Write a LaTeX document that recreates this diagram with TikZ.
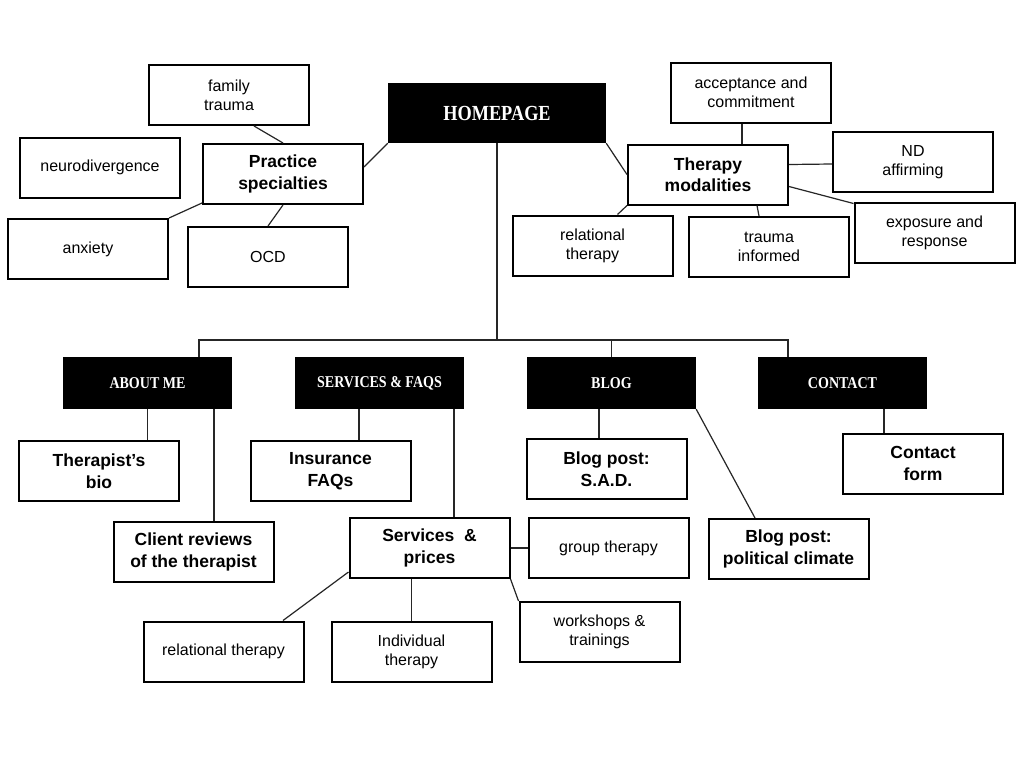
\documentclass[tikz,border=0pt]{standalone}
\usepackage{fontspec}
\setmainfont{Liberation Sans}
\newfontfamily\headfont[FakeStretch=0.85]{Liberation Serif}
\usetikzlibrary{positioning,calc}
\tikzset{
  leaf/.style={draw, line width=2pt, minimum width=160pt, minimum height=60pt, inner sep=2pt, align=center, font=\fontsize{16}{19}\selectfont},
  topic/.style={leaf, font=\fontsize{17.5}{21.5}\selectfont\bfseries},
  head/.style={fill=black, text=white, minimum width=169pt, minimum height=52pt, inner sep=0pt, font=\headfont\fontsize{16.5}{18}\selectfont\bfseries},
  link/.style={draw=black!85, line width=1.2pt}
}

\begin{document}
\begin{tikzpicture}[x=1pt,y=-1pt]
\fill[white] (0,0) rectangle (1024,768);

% top level
\node[head, minimum width=218pt, minimum height=60pt, font=\headfont\fontsize{21.5}{23}\selectfont\bfseries] (home) at (497,113) {HOMEPAGE};

% practice specialties
\node[topic] (practice) at (283,174) {Practice\\specialties};
\node[leaf] (family) at (229,95) {family\\trauma};
\node[leaf] (neuro) at (100,167.5) {neurodivergence};
\node[leaf] (anxiety) at (88,249) {anxiety};
\node[leaf] (ocd) at (268,257) {OCD};

% therapy modalities
\node[topic] (therapy) at (708,174.5) {Therapy\\modalities};
\node[leaf] (accept) at (751,92.5) {acceptance and\\commitment};
\node[leaf] (nd) at (913,162) {ND\\affirming};
\node[leaf] (exposure) at (934.5,232.5) {exposure and\\response};
\node[leaf] (relT) at (592.5,245.5) {relational\\therapy};
\node[leaf] (trauma) at (769,247) {trauma\\informed};

\draw[link] ($(family.south)+(25,0)$) -- (practice.north);
\draw[link] ($(practice.east)+(0,-7)$) -- (home.south west);
\draw[link] ($(practice.south west)+(0,-2)$) -- (anxiety.north east);
\draw[link] (practice.south) -- (ocd.north);
\draw[link] (home.south east) -- (therapy.west);
\draw[link] ($(accept.south)+(-9,0)$) -- ($(therapy.north)+(34,0)$);
\draw[link] ($(therapy.east)+(0,-10)$) -- ($(nd.west)+(0,2)$);
\draw[link] ($(therapy.east)+(0,12)$) -- ($(exposure.north west)+(0,2)$);
\draw[link] (therapy.south west) -- ($(relT.north)+(25,0)$);
\draw[link] ($(therapy.south)+(49,0)$) -- ($(trauma.north)+(-10,0)$);

% second level
\node[head] (about) at (147.5,383) {ABOUT ME};
\node[head] (services) at (379.5,383) {SERVICES \& FAQS};
\node[head] (blog) at (611.5,383) {BLOG};
\node[head] (contact) at (842.5,383) {CONTACT};

\coordinate (bus) at (497,340);
\draw[link] (home.south) -- (bus);
\draw[link] ($(about.north)+(51.5,0)$) |- (bus) -| ($(contact.north)+(-54.5,0)$);
\draw[link] ($(services.north)+(-2.5,0)$) -- ($(services.north)+(-2.5,0)$ |- bus);
\draw[link] (blog.north) -- (blog.north |- bus);

% third level
\node[topic] (bio) at (99,471) {Therapist’s\\bio};
\node[topic] (reviews) at (193.5,552) {Client reviews\\of the therapist};
\node[topic] (insurance) at (330.5,471) {Insurance\\FAQs};
\node[topic] (prices) at (429.5,548) {Services\ \ \&\\prices};
\node[leaf] (relS) at (223.5,651.5) {relational therapy};
\node[leaf] (individual) at (411.5,651.5) {Individual\\therapy};
\node[leaf] (group) at (608.5,548) {group therapy};
\node[leaf] (workshops) at (599.5,632) {workshops \&\\trainings};
\node[topic] (sad) at (606.5,469) {Blog post:\\S.A.D.};
\node[topic] (politics) at (788.5,549) {Blog post:\\political climate};
\node[topic] (form) at (923,463.5) {Contact\\form};

\draw[link] (about.south) -- (about.south |- bio.north);
\draw[link] ($(about.south)+(66.5,0)$) coordinate (r) -- (r |- reviews.north);
\draw[link] ($(services.south)+(-20.5,0)$) coordinate (i) -- (i |- insurance.north);
\draw[link] ($(services.south)+(74.5,0)$) coordinate (p) -- (p |- prices.north);
\draw[link] ($(prices.west)+(0,24)$) -- ($(relS.north)+(59.5,0)$);
\draw[link] (individual.north) -- (individual.north |- prices.south);
\draw[link] (prices.east) -- (group.west);
\draw[link] (prices.south east) -- (workshops.north west);
\draw[link] ($(blog.south)+(-12.5,0)$) coordinate (s) -- (s |- sad.north);
\draw[link] (blog.south east) -- ($(politics.north)+(-33.5,0)$);
\draw[link] ($(contact.south)+(41.5,0)$) coordinate (f) -- (f |- form.north);
\end{tikzpicture}
\end{document}
